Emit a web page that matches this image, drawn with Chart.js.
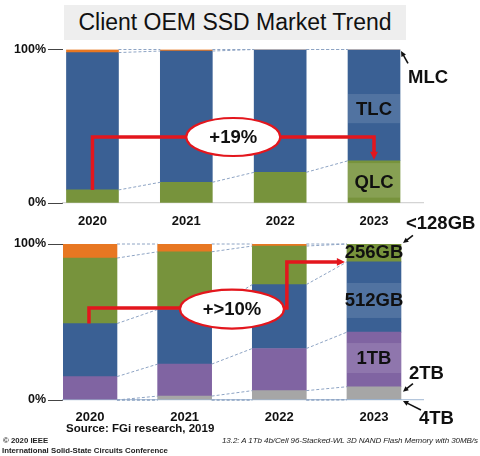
<!DOCTYPE html>
<html>
<head>
<meta charset="utf-8">
<title>Client OEM SSD Market Trend</title>
<script src="https://cdn.jsdelivr.net/npm/chart.js@4.4.1/dist/chart.umd.min.js"></script>
<style>
    body { margin: 0; background: #fff; font-family: "Liberation Sans", Arial, sans-serif; }
    #page { position: relative; width: 480px; height: 456px; overflow: hidden; }
    #title {
        position: absolute; left: 64px; top: 5px; width: 342px; height: 35px;
        background: #eeeeee; color: #111; font-size: 23px; line-height: 35px; text-align: center;
    }
    .box { position: absolute; left: 0; width: 480px; }
    #topBox { top: 40px; height: 190px; }
    #botBox { top: 200px; height: 230px; }
    .txt { position: absolute; white-space: nowrap; color: #111; }
    #source { left: 66px; top: 422px; font-size: 11.5px; font-weight: bold; }
    #ieee { left: 3px; top: 436px; font-size: 7.8px; font-weight: bold; color: #222; }
    #conf { left: 2px; top: 446px; font-size: 7.8px; font-weight: bold; color: #222; }
    #paper { left: 222px; top: 436px; font-size: 8px; font-style: italic; color: #222; letter-spacing: -0.08px; }
</style>
</head>
<body>
<div id="page">
    <div id="title">Client OEM SSD Market Trend</div>
    <div class="box" id="topBox"><canvas id="cellChart"></canvas></div>
    <div class="box" id="botBox"><canvas id="capChart"></canvas></div>
    <div class="txt" id="source">Source: FGi research, 2019</div>
    <div class="txt" id="ieee">© 2020 IEEE</div>
    <div class="txt" id="conf">International Solid-State Circuits Conference</div>
    <div class="txt" id="paper">13.2: A 1Tb 4b/Cell 96-Stacked-WL 3D NAND Flash Memory with 30MB/s</div>
</div>

<script>
    const years = ['2020', '2021', '2022', '2023'];

    // cell type share (%)
    const qlc = [8.5, 13.5, 20, 27.5];
    const tlc = [89.5, 85.5, 80, 72.5];
    const mlc = [2, 1, 0, 0];

    // capacity share (%)
    const cap4tb = [0, 0, 0, 0.3];
    const cap2tb = [0, 2.5, 6, 8.2];
    const cap1tb = [15, 20.5, 27, 35];
    const cap512 = [34, 35, 41, 45];
    const cap256 = [42, 37, 24.7, 11.5];
    const cap128 = [9, 5, 1.3, 0];

    const BLUE = '#3a6094', ORANGE = '#e87722', GREEN = '#77933c',
          PURPLE = '#8064a2', GRAY = '#a6a6a6', RED = '#e3161d';
    const FONT = '"Liberation Sans", Arial, sans-serif';

    function cumulative(sets) {
        // boundaries per bar: 0, top of set 0, top of set 1, ...
        return years.map((_, i) => {
            let s = 0;
            const out = [0];
            sets.forEach(d => { s += d[i]; out.push(s); });
            return out;
        });
    }

    function arrowLine(ctx, pts, color, width, head) {
        ctx.save();
        ctx.strokeStyle = color;
        ctx.fillStyle = color;
        ctx.lineWidth = width;
        ctx.lineJoin = 'miter';
        const n = pts.length;
        const [tx, ty] = pts[n - 1], [px, py] = pts[n - 2];
        const ang = Math.atan2(ty - py, tx - px);
        ctx.beginPath();
        ctx.moveTo(pts[0][0], pts[0][1]);
        for (let i = 1; i < n - 1; i++) ctx.lineTo(pts[i][0], pts[i][1]);
        ctx.lineTo(tx - Math.cos(ang) * head * 0.8, ty - Math.sin(ang) * head * 0.8);
        ctx.stroke();
        ctx.beginPath();
        ctx.moveTo(tx, ty);
        ctx.lineTo(tx - Math.cos(ang - 0.45) * head, ty - Math.sin(ang - 0.45) * head);
        ctx.lineTo(tx - Math.cos(ang + 0.45) * head, ty - Math.sin(ang + 0.45) * head);
        ctx.closePath();
        ctx.fill();
        ctx.restore();
    }

    function badge(ctx, cx, cy, rx, ry, text) {
        ctx.save();
        ctx.beginPath();
        ctx.ellipse(cx, cy, rx, ry, 0, 0, Math.PI * 2);
        ctx.fillStyle = '#fff';
        ctx.fill();
        ctx.strokeStyle = RED;
        ctx.lineWidth = 2.2;
        ctx.stroke();
        ctx.fillStyle = '#111';
        ctx.font = 'bold 18.5px ' + FONT;
        ctx.textAlign = 'center';
        ctx.textBaseline = 'middle';
        ctx.fillText(text, cx, cy + 1);
        ctx.restore();
    }

    // lighter band behind a label inside a bar
    function patch(ctx, bar, y1, y2) {
        const l = bar.x - bar.width / 2, w = bar.width;
        ctx.save();
        ctx.fillStyle = 'rgba(255,255,255,0.12)';
        ctx.fillRect(l, y1, w, y2 - y1);
        ctx.restore();
    }

    function label(ctx, text, x, y, align) {
        ctx.save();
        ctx.globalAlpha = 1;
        ctx.globalCompositeOperation = 'source-over';
        ctx.fillStyle = '#101010';
        ctx.font = 'bold 18.5px ' + FONT;
        ctx.textAlign = align || 'center';
        ctx.textBaseline = 'middle';
        ctx.fillText(text, x, y + 1);
        ctx.restore();
    }

    // dashed series lines between neighbouring bars
    function connectors(chart, sets, color, skipZero) {
        const ctx = chart.ctx, ys = chart.scales.y;
        const cum = cumulative(sets);
        const bars = chart.getDatasetMeta(0).data;
        ctx.save();
        ctx.strokeStyle = color;
        ctx.lineWidth = 1;
        ctx.setLineDash([3, 2]);
        for (let k = skipZero ? 1 : 0; k <= sets.length; k++) {
            for (let i = 0; i < bars.length - 1; i++) {
                const a = bars[i], b = bars[i + 1];
                ctx.beginPath();
                ctx.moveTo(a.x + a.width / 2, ys.getPixelForValue(cum[i][k]));
                ctx.lineTo(b.x - b.width / 2, ys.getPixelForValue(cum[i + 1][k]));
                ctx.stroke();
            }
        }
        ctx.restore();
    }

    function makeChart(id, sets, colors, cfg, under, over) {
        return new Chart(document.getElementById(id), {
            type: 'bar',
            data: {
                datasets: sets.map((d, j) => ({
                    data: d.map((v, i) => ({ x: i, y: v })),
                    backgroundColor: colors[j],
                    barThickness: cfg.thickness,
                    borderWidth: 0
                }))
            },
            options: {
                responsive: true,
                maintainAspectRatio: false,
                animation: false,
                devicePixelRatio: 1,
                layout: { padding: { top: cfg.top, right: 57, left: 0, bottom: 0 } },
                plugins: { legend: { display: false }, tooltip: { enabled: false } },
                scales: {
                    x: {
                        type: 'linear',
                        stacked: true,
                        offset: false,
                        min: cfg.xMin,
                        max: cfg.xMax,
                        grid: { display: false, drawTicks: false },
                        border: { display: true, color: cfg.axisColor, width: 1.2 },
                        afterBuildTicks: s => { s.ticks = years.map((_, i) => ({ value: i })); },
                        afterFit: s => { s.height = cfg.axisHeight; },
                        ticks: {
                            padding: cfg.labelPad,
                            autoSkip: false,
                            maxRotation: 0,
                            color: '#111',
                            font: { family: FONT, size: 13, weight: 'bold' },
                            callback: v => years[v]
                        }
                    },
                    y: {
                        stacked: true,
                        min: 0,
                        max: 100,
                        border: { display: false },
                        grid: { drawOnChartArea: false, drawTicks: true, tickLength: 15, color: '#444', lineWidth: 1 },
                        afterBuildTicks: s => { s.ticks = [{ value: 0 }, { value: 100 }]; },
                        afterFit: s => { s.width = 63; },
                        ticks: {
                            padding: 2,
                            color: '#111',
                            font: { family: FONT, size: 12.5, weight: 'bold' },
                            callback: v => v + '%'
                        }
                    }
                }
            },
            plugins: [{ id: 'notes', afterDatasetsDraw: under, afterDraw: over }]
        });
    }

    const cellSets = [qlc, tlc, mlc];
    makeChart('cellChart', cellSets, [GREEN, BLUE, ORANGE],
        { xMin: -0.314, xMax: 3.522, thickness: 52, axisColor: '#d4d4d4', labelPad: 11, top: 8, axisHeight: 27 },
        chart => {
            const ys = chart.scales.y, bar = chart.getDatasetMeta(0).data[3];
            connectors(chart, cellSets, '#8ea4c4', true);
            patch(chart.ctx, bar, ys.getPixelForValue(71), ys.getPixelForValue(52));
            patch(chart.ctx, bar, ys.getPixelForValue(26), ys.getPixelForValue(3.5));
        },
        chart => {
            const ctx = chart.ctx, xs = chart.scales.x, ys = chart.scales.y;
            const bar = chart.getDatasetMeta(0).data[3];
            const right = bar.x + bar.width / 2;
            label(ctx, 'TLC', bar.x, ys.getPixelForValue(61.5));
            label(ctx, 'QLC', bar.x, ys.getPixelForValue(13.5));
            label(ctx, 'MLC', right + 8, ys.getPixelForValue(82), 'left');
            arrowLine(ctx, [[right + 8, ys.getPixelForValue(91)], [right + 1, ys.getPixelForValue(99)]], '#111', 1.6, 6);

            const level = ys.getPixelForValue(43);
            arrowLine(ctx, [
                [xs.getPixelForValue(0), ys.getPixelForValue(qlc[0])],
                [xs.getPixelForValue(0), level],
                [xs.getPixelForValue(3), level],
                [xs.getPixelForValue(3), ys.getPixelForValue(qlc[3]) - 1]
            ], RED, 3.5, 9);
            badge(ctx, xs.getPixelForValue(1.5), level, 47, 19, '+19%');
        });

    const capSets = [cap4tb, cap2tb, cap1tb, cap512, cap256, cap128];
    makeChart('capChart', capSets, ['#8eb4e3', GRAY, PURPLE, BLUE, GREEN, ORANGE],
        { xMin: -0.285, xMax: 3.518, thickness: 54, axisColor: '#b4c6dc', labelPad: 10, top: 44, axisHeight: 30 },
        chart => {
            const ys = chart.scales.y, bar = chart.getDatasetMeta(0).data[3];
            connectors(chart, capSets, '#8ea4c4', false);
            patch(chart.ctx, bar, ys.getPixelForValue(75), ys.getPixelForValue(52.6));
            patch(chart.ctx, bar, ys.getPixelForValue(36.5), ys.getPixelForValue(17.3));
        },
        chart => {
            const ctx = chart.ctx, xs = chart.scales.x, ys = chart.scales.y;
            const cum = cumulative(capSets);
            const bar = chart.getDatasetMeta(0).data[3];
            const right = bar.x + bar.width / 2, left = bar.x - bar.width / 2;
            label(ctx, '256GB', bar.x, ys.getPixelForValue(94.9));
            label(ctx, '512GB', bar.x, ys.getPixelForValue(64));
            label(ctx, '1TB', bar.x, ys.getPixelForValue(27));
            label(ctx, '<128GB', right + 5, ys.getPixelForValue(113.8), 'left');
            arrowLine(ctx, [[right + 12, ys.getPixelForValue(105.5)], [right + 2, ys.getPixelForValue(100.6)]], '#111', 1.6, 6);
            label(ctx, '2TB', right + 8, ys.getPixelForValue(17.3), 'left');
            arrowLine(ctx, [[right + 12, ys.getPixelForValue(10.5)], [right + 2, ys.getPixelForValue(5.3)]], '#111', 1.6, 6);
            label(ctx, '4TB', right + 18, ys.getPixelForValue(-11.5), 'left');
            arrowLine(ctx, [[right + 20, ys.getPixelForValue(-6.4)], [right + 2, ys.getPixelForValue(-0.6)]], '#111', 1.6, 6);

            const level = ys.getPixelForValue(59);
            const x0 = xs.getPixelForValue(0) - 1, xTurn = xs.getPixelForValue(2.08);
            arrowLine(ctx, [
                [x0, ys.getPixelForValue(cum[0][4])],
                [x0, level],
                [xTurn, level],
                [xTurn, ys.getPixelForValue(cum[3][4])],
                [left - 2, ys.getPixelForValue(cum[3][4])]
            ], RED, 3.5, 9);
            badge(ctx, xs.getPixelForValue(1.5), ys.getPixelForValue(58.3), 52, 19.5, '+>10%');
        });
</script>
</body>
</html>
